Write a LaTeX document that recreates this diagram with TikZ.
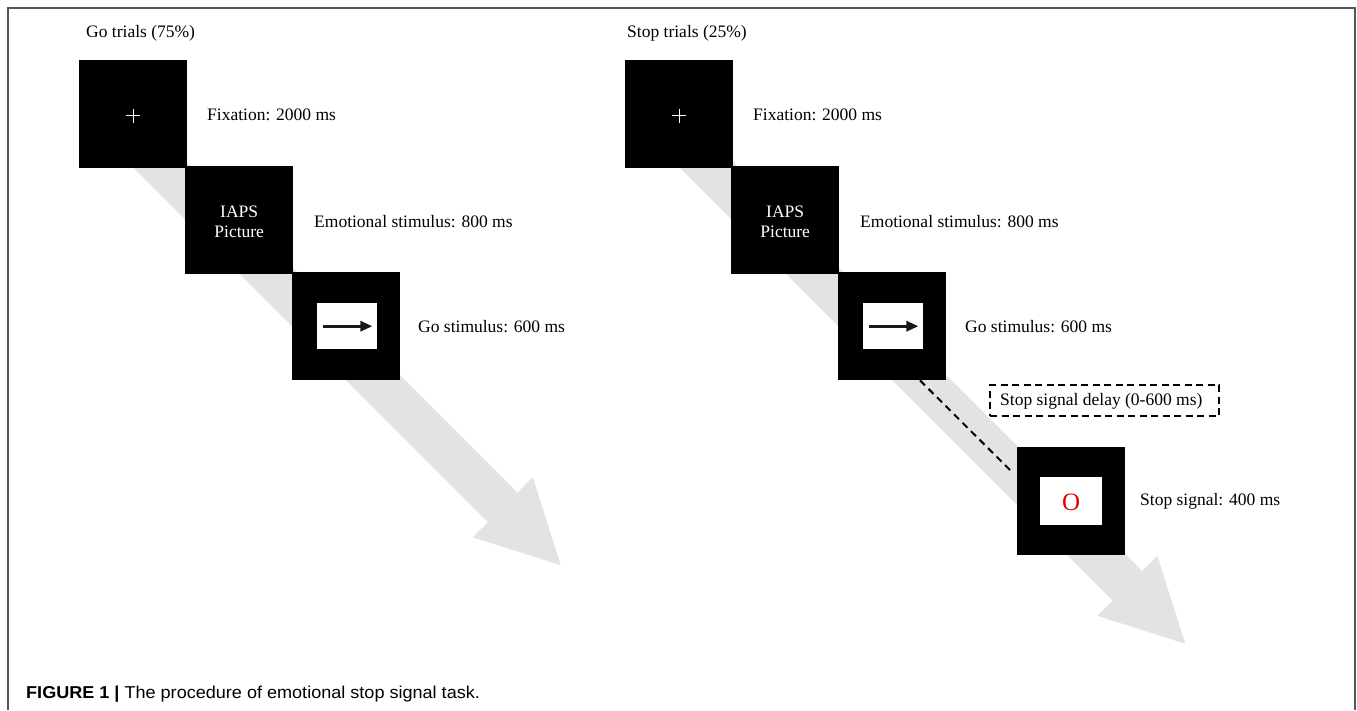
\documentclass[tikz,border=0pt]{standalone}
\usepackage{fontspec}
\setmainfont{Liberation Serif}
\newfontfamily\capfont[FakeStretch=1.05]{Liberation Sans}
\usetikzlibrary{arrows.meta,calc}
\definecolor{band}{HTML}{E3E3E3}
\definecolor{framegray}{HTML}{555555}
\definecolor{sigred}{HTML}{E00000}
\begin{document}
\begin{tikzpicture}[x=1pt,y=-1pt,
  screen/.style={fill=black,draw=none,minimum size=108pt,inner sep=0pt,anchor=north west},
  inner/.style={fill=white,draw=none,minimum width=60pt,minimum height=46pt,inner sep=0pt},
  lbl/.style={anchor=west,inner sep=0pt,font=\fontsize{17.5}{20}\selectfont},
  title/.style={anchor=west,inner sep=0pt,font=\fontsize{17.5}{20}\selectfont},
  delaybox/.style={draw=black,line width=2pt,dash pattern=on 7pt off 4.5pt,
    minimum width=229pt,minimum height=31pt,inner sep=0pt,anchor=north west},
  timeline/.style={fill=band,draw=none}]
\useasboundingbox (0,0) rectangle (1357,710);
\fill[white] (0,0) rectangle (1357,710);

% frame open at the bottom
\draw[framegray,line width=1.3pt] (8,710) -- (8,8) -- (1355,8) -- (1355,710);

% time arrows behind the screens
\fill[timeline] (127.5,102.5) -- (517.5,492.5) -- (532.75,477.25) -- (560.75,565.25)
  -- (472.75,537.25) -- (488,522) -- (98,132) -- cycle;
\fill[timeline] (673.5,102.5) -- (1142,571) -- (1157.25,555.75) -- (1185.25,643.75)
  -- (1097.25,615.75) -- (1112.5,600.5) -- (644,132) -- cycle;

% ---- Go trials ----
\node[title] (gtitle) at (86,33) {Go trials (75\%)};
\node[screen] (g1) at (79,60) {};
\node[screen] (g2) at (185,166) {};
\node[screen] (g3) at (292,272) {};
\draw[white,line width=0.9pt] ($(g1.center)+(-7,1.5)$) -- ($(g1.center)+(7,1.5)$)
  ($(g1.center)+(0,-5.5)$) -- ($(g1.center)+(0,8.5)$);
\node[align=center,text=white,inner sep=0pt,font=\fontsize{17.5}{20}\selectfont]
  (g2txt) at ($(g2.center)+(0,2)$) {IAPS\\Picture};
\node[inner] (g3w) at ($(g3.center)+(1,0)$) {};
\draw[line width=3.4pt,black!90,-{Triangle[length=12pt,width=10pt]}]
  ($(g3w.west)+(6,0)$) -- ($(g3w.east)+(-5,0)$);
\node[lbl] (gl1) at (207,115) {Fixation: 2000 ms};
\node[lbl] (gl2) at (314,222) {Emotional stimulus: 800 ms};
\node[lbl] (gl3) at (418,327) {Go stimulus: 600 ms};

% ---- Stop trials ----
\node[title] (stitle) at (627,33) {Stop trials (25\%)};
\node[screen] (s1) at (625,60) {};
\node[screen] (s2) at (731,166) {};
\node[screen] (s3) at (838,272) {};
\node[screen] (s4) at (1017,447) {};
\draw[white,line width=0.9pt] ($(s1.center)+(-7,1.5)$) -- ($(s1.center)+(7,1.5)$)
  ($(s1.center)+(0,-5.5)$) -- ($(s1.center)+(0,8.5)$);
\node[align=center,text=white,inner sep=0pt,font=\fontsize{17.5}{20}\selectfont]
  (s2txt) at ($(s2.center)+(0,2)$) {IAPS\\Picture};
\node[inner] (s3w) at ($(s3.center)+(1,0)$) {};
\draw[line width=3.4pt,black!90,-{Triangle[length=12pt,width=10pt]}]
  ($(s3w.west)+(6,0)$) -- ($(s3w.east)+(-5,0)$);
\node[inner,minimum width=62pt,minimum height=48pt] (s4w) at (s4.center) {};
\node[text=sigred,inner sep=0pt,font=\fontsize{25}{28}\selectfont] (s4txt)
  at ($(s4w.center)+(0,1)$) {O};
\node[lbl] (sl1) at (753,115) {Fixation: 2000 ms};
\node[lbl] (sl2) at (860,222) {Emotional stimulus: 800 ms};
\node[lbl] (sl3) at (965,327) {Go stimulus: 600 ms};
\node[lbl] (sl4) at (1140,501) {Stop signal: 400 ms};

% stop signal delay
\node[delaybox] (delay) at (989,384) {};
\node[lbl] (delaytxt) at (1000,401) {Stop signal delay (0-600 ms)};
\draw[line width=2pt,dash pattern=on 7pt off 5pt]
  ($(s3.south west)+(82,0)$) -- ($(s4.north west)+(-4,26)$);

% caption
\node[anchor=base west,inner sep=0pt,font=\capfont\fontsize{17.2}{20}\selectfont]
  (caption) at (26,698) {\textbf{FIGURE 1 |} The procedure of emotional stop signal task.};
\end{tikzpicture}
\end{document}
